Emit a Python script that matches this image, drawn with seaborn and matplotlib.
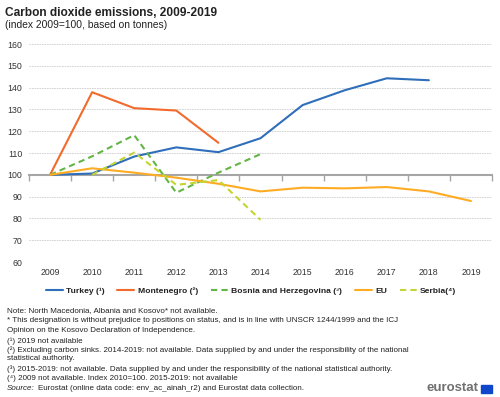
import matplotlib
matplotlib.use("Agg")

import numpy as np
import pandas as pd
import seaborn as sns
import matplotlib.pyplot as plt
from matplotlib.patches import Rectangle

# ===============================
# Data (index 2009=100)
# ===============================
years = list(range(2009, 2020))
turkey = [100, 100.6, 108.4, 112.6, 110.4, 116.8, 132.0, 138.8, 144.3, 143.4, np.nan]
montenegro = [100, 137.9, 130.6, 129.5, 114.7] + [np.nan] * 6
bosnia = [100, 108.5, 118.2, 91.8, 101.0, 109.5] + [np.nan] * 5
eu = [100, 103.0, 101.0, 98.7, 95.9, 92.4, 94.1, 93.8, 94.4, 92.4, 88.0]
serbia = [np.nan, 100, 110.2, 95.4, 97.6, 79.4] + [np.nan] * 5

series_names = ['Turkey (¹)', 'Montenegro (²)', 'Bosnia and Herzegovina (³)', 'EU', 'Serbia(⁴)']
series_values = [turkey, montenegro, bosnia, eu, serbia]
colors = ['#2F6EBA', '#F26A2C', '#63B545', '#FFAC24', '#C3D530']

rows = []
for name, vals in zip(series_names, series_values):
    for y, v in zip(years, vals):
        if not np.isnan(v):
            rows.append({'year': y, 'value': v, 'series': name})
df = pd.DataFrame(rows)

# ===============================
# Plot
# ===============================
sns.set_style('white')
plt.rcParams['font.family'] = ['Liberation Sans', 'DejaVu Sans']

fig = plt.figure(figsize=(5, 3.97), dpi=100)
ax = fig.add_axes([0.058, 0.34, 0.926, 0.549])

sns.lineplot(
    ax=ax, data=df, x='year', y='value',
    hue='series', style='series',
    hue_order=series_names, style_order=series_names,
    palette=dict(zip(series_names, colors)),
    dashes={'Turkey (¹)': '', 'Montenegro (²)': '',
            'Bosnia and Herzegovina (³)': (3, 2), 'EU': '', 'Serbia(⁴)': (3, 2)},
    linewidth=1.5, legend=True
)

ax.set_ylim(60, 160)
ax.set_xlim(2008.5, 2019.5)
ax.set_yticks(range(60, 161, 10))
ax.yaxis.grid(True, color='#cccccc', linestyle=(0, (2, 1)), linewidth=0.6)
ax.set_axisbelow(True)
ax.tick_params(axis='y', length=0, labelsize=6.3, colors='#333333', pad=5)

for s in ['top', 'right', 'left']:
    ax.spines[s].set_visible(False)

# category axis crossing at 100
ax.spines['bottom'].set_position(('data', 100))
ax.spines['bottom'].set_color('#a6a6a6')
ax.spines['bottom'].set_linewidth(1.5)
ax.spines['bottom'].set_zorder(1)
ax.set_xticks(np.arange(2008.5, 2020, 1))
ax.tick_params(axis='x', bottom=True, direction='out', length=4, width=1,
               color='#a6a6a6', labelbottom=False)

sec = ax.secondary_xaxis('bottom')
sec.set_xticks(years)
sec.set_xticklabels([str(y) for y in years])
sec.tick_params(bottom=False, length=0, labelsize=6.3, colors='#333333', pad=4)
sec.spines['bottom'].set_visible(False)

ax.set_xlabel('')
ax.set_ylabel('')

handles, labels = ax.get_legend_handles_labels()
ax.legend(handles, labels, loc='center', bbox_to_anchor=(0.502, 0.268),
          bbox_transform=fig.transFigure, ncol=5, frameon=False,
          prop={'size': 6.1, 'weight': 'bold'}, handlelength=2.0,
          columnspacing=1.5, handletextpad=0.4, labelcolor='#222222')

# ===============================
# Titles and notes
# ===============================
fig.text(0.010, 0.968, 'Carbon dioxide emissions, 2009-2019', fontsize=8.6,
         fontweight='bold', va='center', color='#222222')
fig.text(0.010, 0.937, '(index 2009=100, based on tonnes)', fontsize=7.4,
         va='center', color='#222222')

fs = 5.8
notes = [
    ('Note: North Macedonia, Albania and Kosovo* not available.', 311),
    ('* This designation is without prejudice to positions on status, and is in line with UNSCR 1244/1999 and the ICJ', 320),
    ('Opinion on the Kosovo Declaration of Independence.', 330),
    ('(¹) 2019 not available', 341),
    ('(²) Excluding carbon sinks. 2014-2019: not available. Data supplied by and under the responsibility of the national', 350),
    ('statistical authority.', 359),
    ('(³) 2015-2019: not available. Data supplied by and under the responsibility of the national statistical authority.', 369),
    ('(⁴) 2009 not available. Index 2010=100. 2015-2019: not available', 378),
]
for txt, ypx in notes:
    fig.text(0.014, 1 - ypx / 397, txt, fontsize=fs, va='center', color='#222222')
fig.text(0.014, 1 - 389 / 397, 'Source:', fontsize=fs, va='center',
         style='italic', color='#222222')
fig.text(0.077, 1 - 389 / 397,
         'Eurostat (online data code: env_ac_ainah_r2) and Eurostat data collection.',
         fontsize=fs, va='center', color='#222222')

fig.text(0.957, 1 - 388 / 397, 'eurostat', fontsize=9.5, fontweight='bold',
         ha='right', va='center', color='#707070')
fig.patches.append(Rectangle((0.961, 1 - 393 / 397), 0.022, 0.021,
                             transform=fig.transFigure, color='#0E47CB'))

plt.savefig('out.png', dpi=100)
plt.close()
